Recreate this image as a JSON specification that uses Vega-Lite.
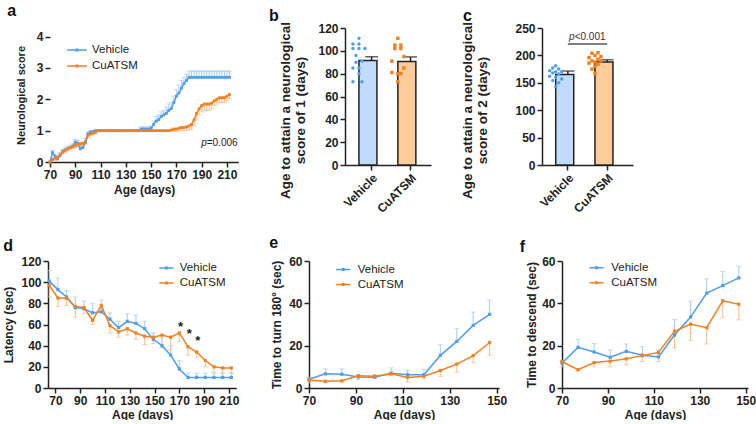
{
"$schema":"https://vega.github.io/schema/vega-lite/v6.json",
"padding":{"left":2,"top":2,"right":0,"bottom":0},
"spacing":19,
"resolve":{"scale":{"color":"independent","fill":"independent","stroke":"independent","shape":"independent","x":"independent","y":"independent"}},
"datasets":{
"a":[
{"g":"Vehicle","x":70,"y":0,"e":0},{"g":"Vehicle","x":72,"y":0.3,"e":0.38},{"g":"Vehicle","x":74,"y":0.18,"e":0.26},{"g":"Vehicle","x":76,"y":0.1,"e":0.16},{"g":"Vehicle","x":78,"y":0.22,"e":0.3},{"g":"Vehicle","x":80,"y":0.33,"e":0.4},{"g":"Vehicle","x":82,"y":0.38,"e":0.45},{"g":"Vehicle","x":84,"y":0.42,"e":0.5},{"g":"Vehicle","x":86,"y":0.46,"e":0.54},{"g":"Vehicle","x":88,"y":0.5,"e":0.58},{"g":"Vehicle","x":90,"y":0.63,"e":0.72},{"g":"Vehicle","x":92,"y":0.6,"e":0.68},{"g":"Vehicle","x":94,"y":0.42,"e":0.5},{"g":"Vehicle","x":96,"y":0.46,"e":0.54},{"g":"Vehicle","x":98,"y":0.65,"e":0.75},{"g":"Vehicle","x":100,"y":0.9,"e":0.96},{"g":"Vehicle","x":102,"y":0.95,"e":1.0},{"g":"Vehicle","x":104,"y":0.97,"e":1.0},{"g":"Vehicle","x":106,"y":1,"e":1},
{"g":"Vehicle","x":108,"y":1,"e":1},{"g":"Vehicle","x":110,"y":1,"e":1},{"g":"Vehicle","x":112,"y":1,"e":1},{"g":"Vehicle","x":114,"y":1,"e":1},{"g":"Vehicle","x":116,"y":1,"e":1},{"g":"Vehicle","x":118,"y":1,"e":1},{"g":"Vehicle","x":120,"y":1,"e":1},{"g":"Vehicle","x":122,"y":1,"e":1},{"g":"Vehicle","x":124,"y":1,"e":1},{"g":"Vehicle","x":126,"y":1,"e":1},{"g":"Vehicle","x":128,"y":1,"e":1},{"g":"Vehicle","x":130,"y":1,"e":1},{"g":"Vehicle","x":132,"y":1,"e":1},{"g":"Vehicle","x":134,"y":1,"e":1},{"g":"Vehicle","x":136,"y":1,"e":1},{"g":"Vehicle","x":138,"y":1,"e":1},{"g":"Vehicle","x":140,"y":1,"e":1},
{"g":"Vehicle","x":142,"y":1.05,"e":1.12},{"g":"Vehicle","x":144,"y":1.05,"e":1.12},{"g":"Vehicle","x":146,"y":1.05,"e":1.12},{"g":"Vehicle","x":148,"y":1.05,"e":1.12},{"g":"Vehicle","x":150,"y":1.08,"e":1.15},{"g":"Vehicle","x":152,"y":1.2,"e":1.3},{"g":"Vehicle","x":154,"y":1.3,"e":1.45},{"g":"Vehicle","x":156,"y":1.35,"e":1.5},{"g":"Vehicle","x":158,"y":1.45,"e":1.6},{"g":"Vehicle","x":160,"y":1.5,"e":1.65},{"g":"Vehicle","x":162,"y":1.55,"e":1.75},{"g":"Vehicle","x":164,"y":1.65,"e":1.85},{"g":"Vehicle","x":166,"y":1.7,"e":1.9},{"g":"Vehicle","x":168,"y":1.9,"e":2.1},{"g":"Vehicle","x":170,"y":2.1,"e":2.3},{"g":"Vehicle","x":172,"y":2.2,"e":2.45},{"g":"Vehicle","x":174,"y":2.35,"e":2.6},{"g":"Vehicle","x":176,"y":2.5,"e":2.7},{"g":"Vehicle","x":178,"y":2.6,"e":2.8},{"g":"Vehicle","x":180,"y":2.7,"e":2.9},
{"g":"Vehicle","x":182,"y":2.7,"e":2.9},{"g":"Vehicle","x":184,"y":2.7,"e":2.9},{"g":"Vehicle","x":186,"y":2.7,"e":2.9},{"g":"Vehicle","x":188,"y":2.7,"e":2.9},{"g":"Vehicle","x":190,"y":2.7,"e":2.9},{"g":"Vehicle","x":192,"y":2.7,"e":2.9},{"g":"Vehicle","x":194,"y":2.7,"e":2.9},{"g":"Vehicle","x":196,"y":2.7,"e":2.9},{"g":"Vehicle","x":198,"y":2.7,"e":2.9},{"g":"Vehicle","x":200,"y":2.7,"e":2.9},{"g":"Vehicle","x":202,"y":2.7,"e":2.9},{"g":"Vehicle","x":204,"y":2.7,"e":2.9},{"g":"Vehicle","x":206,"y":2.7,"e":2.9},{"g":"Vehicle","x":208,"y":2.7,"e":2.9},{"g":"Vehicle","x":210,"y":2.7,"e":2.9},{"g":"Vehicle","x":212,"y":2.7,"e":2.9},
{"g":"CuATSM","x":70,"y":0,"e":0},{"g":"CuATSM","x":72,"y":0.08,"e":0.02},{"g":"CuATSM","x":74,"y":0.12,"e":0.05},{"g":"CuATSM","x":76,"y":0.16,"e":0.1},{"g":"CuATSM","x":78,"y":0.23,"e":0.15},{"g":"CuATSM","x":80,"y":0.32,"e":0.25},{"g":"CuATSM","x":82,"y":0.38,"e":0.3},{"g":"CuATSM","x":84,"y":0.42,"e":0.35},{"g":"CuATSM","x":86,"y":0.46,"e":0.38},{"g":"CuATSM","x":88,"y":0.5,"e":0.43},{"g":"CuATSM","x":90,"y":0.53,"e":0.45},{"g":"CuATSM","x":92,"y":0.57,"e":0.48},{"g":"CuATSM","x":94,"y":0.58,"e":0.5},{"g":"CuATSM","x":96,"y":0.6,"e":0.52},{"g":"CuATSM","x":98,"y":0.62,"e":0.55},{"g":"CuATSM","x":100,"y":0.85,"e":0.78},{"g":"CuATSM","x":102,"y":0.9,"e":0.85},{"g":"CuATSM","x":104,"y":0.92,"e":0.87},{"g":"CuATSM","x":106,"y":0.95,"e":0.9},
{"g":"CuATSM","x":108,"y":1,"e":1},{"g":"CuATSM","x":110,"y":1,"e":1},{"g":"CuATSM","x":112,"y":1,"e":1},{"g":"CuATSM","x":114,"y":1,"e":1},{"g":"CuATSM","x":116,"y":1,"e":1},{"g":"CuATSM","x":118,"y":1,"e":1},{"g":"CuATSM","x":120,"y":1,"e":1},{"g":"CuATSM","x":122,"y":1,"e":1},{"g":"CuATSM","x":124,"y":1,"e":1},{"g":"CuATSM","x":126,"y":1,"e":1},{"g":"CuATSM","x":128,"y":1,"e":1},{"g":"CuATSM","x":130,"y":1,"e":1},{"g":"CuATSM","x":132,"y":1,"e":1},{"g":"CuATSM","x":134,"y":1,"e":1},{"g":"CuATSM","x":136,"y":1,"e":1},{"g":"CuATSM","x":138,"y":1,"e":1},{"g":"CuATSM","x":140,"y":1,"e":1},{"g":"CuATSM","x":142,"y":1,"e":1},{"g":"CuATSM","x":144,"y":1,"e":1},{"g":"CuATSM","x":146,"y":1,"e":1},{"g":"CuATSM","x":148,"y":1,"e":1},{"g":"CuATSM","x":150,"y":1,"e":1},{"g":"CuATSM","x":152,"y":1,"e":1},{"g":"CuATSM","x":154,"y":1,"e":1},{"g":"CuATSM","x":156,"y":1,"e":1},{"g":"CuATSM","x":158,"y":1,"e":1},{"g":"CuATSM","x":160,"y":1,"e":1},{"g":"CuATSM","x":162,"y":1,"e":1},{"g":"CuATSM","x":164,"y":1,"e":1},
{"g":"CuATSM","x":166,"y":1.02,"e":1},{"g":"CuATSM","x":168,"y":1.05,"e":0.98},{"g":"CuATSM","x":170,"y":1.05,"e":0.98},{"g":"CuATSM","x":172,"y":1.08,"e":1},{"g":"CuATSM","x":174,"y":1.1,"e":1},{"g":"CuATSM","x":176,"y":1.1,"e":1},{"g":"CuATSM","x":178,"y":1.12,"e":1},{"g":"CuATSM","x":180,"y":1.15,"e":1.02},{"g":"CuATSM","x":182,"y":1.2,"e":1.05},{"g":"CuATSM","x":184,"y":1.35,"e":1.15},{"g":"CuATSM","x":186,"y":1.55,"e":1.35},{"g":"CuATSM","x":188,"y":1.7,"e":1.5},{"g":"CuATSM","x":190,"y":1.8,"e":1.6},{"g":"CuATSM","x":192,"y":1.85,"e":1.65},{"g":"CuATSM","x":194,"y":1.85,"e":1.65},{"g":"CuATSM","x":196,"y":1.85,"e":1.65},{"g":"CuATSM","x":198,"y":1.88,"e":1.7},{"g":"CuATSM","x":200,"y":1.95,"e":1.8},{"g":"CuATSM","x":202,"y":2,"e":1.85},{"g":"CuATSM","x":204,"y":2.05,"e":1.9},{"g":"CuATSM","x":206,"y":2.05,"e":1.9},{"g":"CuATSM","x":208,"y":2.05,"e":1.9},{"g":"CuATSM","x":210,"y":2.1,"e":1.95},{"g":"CuATSM","x":212,"y":2.15,"e":2.02}
],
"aann":[{"x":194,"y":0.5,"t":"p","k":"italic"},{"x":194,"y":0.5,"t":"=0.006","k":"plain"}],
"bsum":[{"g":"Vehicle","y":91.5,"e":94.8},{"g":"CuATSM","y":90.6,"e":94.7}],
"bdots":[
{"g":"Vehicle","y":111,"k":0},{"g":"Vehicle","y":106,"k":-2},{"g":"Vehicle","y":106,"k":0},{"g":"Vehicle","y":102,"k":-2},{"g":"Vehicle","y":102,"k":0},{"g":"Vehicle","y":102,"k":2},{"g":"Vehicle","y":96,"k":-1},{"g":"Vehicle","y":91,"k":1},{"g":"Vehicle","y":90,"k":-1},{"g":"Vehicle","y":85,"k":-2},{"g":"Vehicle","y":85,"k":0},{"g":"Vehicle","y":80,"k":0},{"g":"Vehicle","y":73,"k":-2},{"g":"Vehicle","y":73,"k":1},
{"g":"CuATSM","y":111,"k":0},{"g":"CuATSM","y":105,"k":-1},{"g":"CuATSM","y":105,"k":1},{"g":"CuATSM","y":102,"k":-1},{"g":"CuATSM","y":102,"k":1},{"g":"CuATSM","y":95,"k":2},{"g":"CuATSM","y":91,"k":-2},{"g":"CuATSM","y":85,"k":2},{"g":"CuATSM","y":81,"k":-2},{"g":"CuATSM","y":80,"k":0},{"g":"CuATSM","y":80,"k":1},{"g":"CuATSM","y":73,"k":0}
],
"csum":[{"g":"Vehicle","y":165,"e":171.5},{"g":"CuATSM","y":188,"e":192}],
"cdots":[
{"g":"Vehicle","y":181,"k":0},{"g":"Vehicle","y":177,"k":-1},{"g":"Vehicle","y":175,"k":1},{"g":"Vehicle","y":172,"k":-2},{"g":"Vehicle","y":170,"k":0},{"g":"Vehicle","y":170,"k":2},{"g":"Vehicle","y":168,"k":-1},{"g":"Vehicle","y":166,"k":1},{"g":"Vehicle","y":162,"k":-2},{"g":"Vehicle","y":160,"k":0},{"g":"Vehicle","y":157,"k":2},{"g":"Vehicle","y":154,"k":-1},{"g":"Vehicle","y":150,"k":1},{"g":"Vehicle","y":143,"k":0},
{"g":"CuATSM","y":205,"k":1},{"g":"CuATSM","y":204,"k":-1},{"g":"CuATSM","y":200,"k":0},{"g":"CuATSM","y":198,"k":2},{"g":"CuATSM","y":196,"k":-2},{"g":"CuATSM","y":193,"k":1},{"g":"CuATSM","y":190,"k":-1},{"g":"CuATSM","y":190,"k":2},{"g":"CuATSM","y":188,"k":0},{"g":"CuATSM","y":186,"k":-2},{"g":"CuATSM","y":184,"k":1},{"g":"CuATSM","y":180,"k":0},{"g":"CuATSM","y":175,"k":-1},{"g":"CuATSM","y":167,"k":0}
],
"d":[
{"g":"Vehicle","x":65,"y":101,"e":111},{"g":"Vehicle","x":72,"y":93,"e":104},{"g":"Vehicle","x":79,"y":86,"e":92},{"g":"Vehicle","x":86,"y":76,"e":86},{"g":"Vehicle","x":93,"y":75,"e":82},{"g":"Vehicle","x":100,"y":71,"e":80},{"g":"Vehicle","x":107,"y":72,"e":83},{"g":"Vehicle","x":114,"y":65,"e":71},{"g":"Vehicle","x":121,"y":57,"e":63},{"g":"Vehicle","x":128,"y":63,"e":70},{"g":"Vehicle","x":135,"y":61,"e":69},{"g":"Vehicle","x":142,"y":56,"e":63},{"g":"Vehicle","x":149,"y":46,"e":52},{"g":"Vehicle","x":156,"y":40,"e":48},{"g":"Vehicle","x":163,"y":31,"e":40},{"g":"Vehicle","x":170,"y":18,"e":26},{"g":"Vehicle","x":177,"y":10,"e":14},{"g":"Vehicle","x":184,"y":10,"e":14},{"g":"Vehicle","x":191,"y":10,"e":14},{"g":"Vehicle","x":198,"y":10,"e":14},{"g":"Vehicle","x":205,"y":10,"e":14},{"g":"Vehicle","x":212,"y":10,"e":14},
{"g":"CuATSM","x":65,"y":97,"e":86},{"g":"CuATSM","x":72,"y":85,"e":77},{"g":"CuATSM","x":79,"y":85,"e":78},{"g":"CuATSM","x":86,"y":77,"e":67},{"g":"CuATSM","x":93,"y":76,"e":70},{"g":"CuATSM","x":100,"y":64,"e":60},{"g":"CuATSM","x":107,"y":78,"e":75},{"g":"CuATSM","x":114,"y":59,"e":52},{"g":"CuATSM","x":121,"y":53,"e":48},{"g":"CuATSM","x":128,"y":56,"e":50},{"g":"CuATSM","x":135,"y":52,"e":46},{"g":"CuATSM","x":142,"y":49,"e":41},{"g":"CuATSM","x":149,"y":48,"e":42},{"g":"CuATSM","x":156,"y":50,"e":38},{"g":"CuATSM","x":163,"y":48,"e":36},{"g":"CuATSM","x":170,"y":52,"e":44},{"g":"CuATSM","x":177,"y":39,"e":31},{"g":"CuATSM","x":184,"y":34,"e":29},{"g":"CuATSM","x":191,"y":26,"e":20},{"g":"CuATSM","x":198,"y":20,"e":15},{"g":"CuATSM","x":205,"y":19,"e":14},{"g":"CuATSM","x":212,"y":19,"e":14}
],
"dstars":[{"x":171,"y":58},{"x":178,"y":51},{"x":185,"y":44}],
"e":[
{"g":"Vehicle","x":70,"y":4.1,"e":5},{"g":"Vehicle","x":77,"y":6.7,"e":9},{"g":"Vehicle","x":84,"y":6.5,"e":9},{"g":"Vehicle","x":91,"y":5.2,"e":6.3},{"g":"Vehicle","x":98,"y":5.1,"e":6.2},{"g":"Vehicle","x":105,"y":7,"e":9.5},{"g":"Vehicle","x":112,"y":6.3,"e":8.5},{"g":"Vehicle","x":119,"y":6.3,"e":8.8},{"g":"Vehicle","x":126,"y":15.4,"e":20.4},{"g":"Vehicle","x":133,"y":22,"e":28},{"g":"Vehicle","x":140,"y":29.6,"e":35.9},{"g":"Vehicle","x":147,"y":34.8,"e":41.5},
{"g":"CuATSM","x":70,"y":3.8,"e":2.5},{"g":"CuATSM","x":77,"y":3.2,"e":2.6},{"g":"CuATSM","x":84,"y":3.4,"e":2.8},{"g":"CuATSM","x":91,"y":5.8,"e":4},{"g":"CuATSM","x":98,"y":5.6,"e":4.5},{"g":"CuATSM","x":105,"y":6.7,"e":5.8},{"g":"CuATSM","x":112,"y":5,"e":2.8},{"g":"CuATSM","x":119,"y":5.6,"e":4.3},{"g":"CuATSM","x":126,"y":8.3,"e":5.5},{"g":"CuATSM","x":133,"y":11.3,"e":7.5},{"g":"CuATSM","x":140,"y":15.3,"e":12},{"g":"CuATSM","x":147,"y":21.5,"e":15.5}
],
"f":[
{"g":"Vehicle","x":70,"y":11.8,"e":13},{"g":"Vehicle","x":77,"y":19.2,"e":23},{"g":"Vehicle","x":84,"y":17,"e":21},{"g":"Vehicle","x":91,"y":14.5,"e":18},{"g":"Vehicle","x":98,"y":17.3,"e":20.8},{"g":"Vehicle","x":105,"y":15.5,"e":19.5},{"g":"Vehicle","x":112,"y":14.7,"e":18},{"g":"Vehicle","x":119,"y":25,"e":32.3},{"g":"Vehicle","x":126,"y":33.5,"e":41},{"g":"Vehicle","x":133,"y":44.8,"e":51.6},{"g":"Vehicle","x":140,"y":48.4,"e":55},{"g":"Vehicle","x":147,"y":52,"e":57.5},
{"g":"CuATSM","x":70,"y":12.5,"e":10},{"g":"CuATSM","x":77,"y":8.7,"e":8},{"g":"CuATSM","x":84,"y":12,"e":10},{"g":"CuATSM","x":91,"y":12.7,"e":10},{"g":"CuATSM","x":98,"y":13.8,"e":11},{"g":"CuATSM","x":105,"y":15.3,"e":12.5},{"g":"CuATSM","x":112,"y":16.8,"e":12.5},{"g":"CuATSM","x":119,"y":26.8,"e":19},{"g":"CuATSM","x":126,"y":30.2,"e":22.5},{"g":"CuATSM","x":133,"y":28.5,"e":20.8},{"g":"CuATSM","x":140,"y":41.2,"e":33.2},{"g":"CuATSM","x":147,"y":39.6,"e":32.2}
]
},
"vconcat":[
{"hconcat":[
{"width":2,"height":134,"data":{"values":[]},"mark":"point"},
{"width":188.3,"height":134,
 "title":{"text":"a","dx":-42.7,"offset":-3.8,"baseline":"alphabetic"},
 "data":{"name":"a"},
 "encoding":{"x":{"field":"x","type":"quantitative","title":"Age (days)","scale":{"domain":[70,219],"nice":false,"zero":false},"axis":{"values":[70,90,110,130,150,170,190,210],"titlePadding":4}}},
 "layer":[
  {"transform":[{"filter":"datum.e != datum.y"}],"mark":{"type":"rule","strokeWidth":1},
   "encoding":{"y":{"field":"y","type":"quantitative","title":"Neurological score","scale":{"domain":[0,4.274],"nice":false},"axis":{"values":[0,1,2,3,4],"titlePadding":10,"domain":false,"titleFontSize":11}},"y2":{"field":"e"},
    "stroke":{"field":"g","type":"nominal","scale":{"domain":["CuATSM","Vehicle"],"range":["#f9bd89","#a4cdf6"]},"legend":null}}},
  {"transform":[{"filter":"datum.e != datum.y"}],"mark":{"type":"tick","orient":"horizontal","size":5,"thickness":1},
   "encoding":{"y":{"field":"e","type":"quantitative","title":"Neurological score","axis":{"values":[0,1,2,3,4],"titlePadding":10,"domain":false,"titleFontSize":11}},
    "fill":{"field":"g","type":"nominal","scale":{"domain":["CuATSM","Vehicle"],"range":["#f9bd89","#a4cdf6"]},"legend":null}}},
  {"mark":{"type":"line","strokeWidth":1.5,"point":{"shape":"square","size":8,"filled":true}},
   "encoding":{"y":{"field":"y","type":"quantitative","title":"Neurological score","axis":{"values":[0,1,2,3,4],"titlePadding":10,"domain":false,"titleFontSize":11}},
    "color":{"field":"g","type":"nominal","scale":{"domain":["Vehicle","CuATSM"],"range":["#4f9def","#f47f20"]},
     "legend":{"orient":"none","legendX":19,"legendY":14,"title":null,"symbolType":"M-1.4,0L1.4,0M-0.1,-0.1L0.1,-0.1L0.1,0.1L-0.1,0.1Z","symbolSize":200,"symbolStrokeWidth":1.5,"labelFontSize":11.5,"labelColor":"#222","labelOffset":7,"rowPadding":2,"padding":0}}}},
  {"data":{"values":[{"t":"axis"}]},"mark":{"type":"rule","stroke":"#222","strokeWidth":1.5},
   "encoding":{"x":{"datum":70},"y":{"datum":0,"title":"Neurological score","axis":{"values":[0,1,2,3,4],"titlePadding":10,"domain":false,"titleFontSize":11}},"y2":{"datum":4}}},
  {"data":{"name":"aann"},"transform":[{"filter":"datum.k == 'italic'"}],"mark":{"type":"text","align":"right","baseline":"alphabetic","fontSize":10,"fontStyle":"italic","color":"#222"},
   "encoding":{"x":{"field":"x","type":"quantitative"},"y":{"field":"y","type":"quantitative","title":"Neurological score","axis":{"values":[0,1,2,3,4],"titlePadding":10,"domain":false,"titleFontSize":11}},"text":{"field":"t"}}},
  {"data":{"name":"aann"},"transform":[{"filter":"datum.k == 'plain'"}],"mark":{"type":"text","align":"left","baseline":"alphabetic","fontSize":10,"color":"#222"},
   "encoding":{"x":{"field":"x","type":"quantitative"},"y":{"field":"y","type":"quantitative","title":"Neurological score","axis":{"values":[0,1,2,3,4],"titlePadding":10,"domain":false,"titleFontSize":11}},"text":{"field":"t"}}}
 ]},
{"width":106,"height":134,"data":{"values":[]},"mark":"point"},
{"width":86,"height":137,
 "title":{"text":"b","dx":-76,"offset":-15.5,"baseline":"alphabetic"},
 "encoding":{"x":{"field":"g","type":"nominal","title":null,"sort":["Vehicle","CuATSM"],"scale":{"domain":["Vehicle","CuATSM"],"paddingInner":0.35,"paddingOuter":0.28,"align":0.64},"axis":{"labelAngle":-45}}},
 "layer":[
  {"data":{"name":"bsum"},"mark":{"type":"bar","stroke":"#222","strokeWidth":1.5},
   "encoding":{"y":{"field":"y","type":"quantitative","title":["Age to attain a neurological","score of 1 (days)"],"scale":{"domain":[0,120],"nice":false},"axis":{"values":[0,20,40,60,80,100,120],"titlePadding":10,"titleFontSize":13.5,"titleY":82}},
    "fill":{"field":"g","type":"nominal","scale":{"domain":["Vehicle","CuATSM"],"range":["#bfdbfd","#ffcb98"]},"legend":null}}},
  {"data":{"name":"bsum"},"mark":{"type":"rule","stroke":"#222","strokeWidth":1.5},
   "encoding":{"y":{"field":"y","type":"quantitative","title":["Age to attain a neurological","score of 1 (days)"],"axis":{"values":[0,20,40,60,80,100,120],"titlePadding":10,"titleFontSize":13.5,"titleY":82}},"y2":{"field":"e"}}},
  {"data":{"name":"bsum"},"mark":{"type":"tick","orient":"horizontal","size":13,"thickness":1.5,"color":"#222"},
   "encoding":{"y":{"field":"e","type":"quantitative","title":["Age to attain a neurological","score of 1 (days)"],"axis":{"values":[0,20,40,60,80,100,120],"titlePadding":10,"titleFontSize":13.5,"titleY":82}}}},
  {"data":{"name":"bdots"},"mark":{"type":"point","filled":true,"size":12,"opacity":1},
   "encoding":{"y":{"field":"y","type":"quantitative","title":["Age to attain a neurological","score of 1 (days)"],"axis":{"values":[0,20,40,60,80,100,120],"titlePadding":10,"titleFontSize":13.5,"titleY":82}},
    "xOffset":{"field":"k","type":"quantitative","scale":{"domain":[-3,3],"range":[-9,9]}},
    "shape":{"field":"g","type":"nominal","scale":{"domain":["Vehicle","CuATSM"],"range":["circle","square"]},"legend":null},
    "color":{"field":"g","type":"nominal","scale":{"domain":["Vehicle","CuATSM"],"range":["#4f9def","#f47f20"]},"legend":null}}}
 ]},
{"width":111,"height":134,"data":{"values":[]},"mark":"point"},
{"width":91,"height":137,
 "title":{"text":"c","dx":-79,"offset":-15.5,"baseline":"alphabetic"},
 "encoding":{"x":{"field":"g","type":"nominal","title":null,"sort":["Vehicle","CuATSM"],"scale":{"domain":["Vehicle","CuATSM"],"paddingInner":0.38,"paddingOuter":0.35,"align":0.5},"axis":{"labelAngle":-45}}},
 "layer":[
  {"data":{"name":"csum"},"mark":{"type":"bar","stroke":"#222","strokeWidth":1.5},
   "encoding":{"y":{"field":"y","type":"quantitative","title":["Age to attain a neurological","score of 2 (days)"],"scale":{"domain":[0,250],"nice":false},"axis":{"values":[0,50,100,150,200,250],"titlePadding":25,"titleFontSize":13.5,"titleY":82}},
    "fill":{"field":"g","type":"nominal","scale":{"domain":["Vehicle","CuATSM"],"range":["#bfdbfd","#ffcb98"]},"legend":null}}},
  {"data":{"name":"csum"},"mark":{"type":"rule","stroke":"#222","strokeWidth":1.5},
   "encoding":{"y":{"field":"y","type":"quantitative","title":["Age to attain a neurological","score of 2 (days)"],"axis":{"values":[0,50,100,150,200,250],"titlePadding":25,"titleFontSize":13.5,"titleY":82}},"y2":{"field":"e"}}},
  {"data":{"name":"csum"},"mark":{"type":"tick","orient":"horizontal","size":13,"thickness":1.5,"color":"#222"},
   "encoding":{"y":{"field":"e","type":"quantitative","title":["Age to attain a neurological","score of 2 (days)"],"axis":{"values":[0,50,100,150,200,250],"titlePadding":25,"titleFontSize":13.5,"titleY":82}}}},
  {"data":{"name":"cdots"},"mark":{"type":"point","filled":true,"size":12,"opacity":1},
   "encoding":{"y":{"field":"y","type":"quantitative","title":["Age to attain a neurological","score of 2 (days)"],"axis":{"values":[0,50,100,150,200,250],"titlePadding":25,"titleFontSize":13.5,"titleY":82}},
    "xOffset":{"field":"k","type":"quantitative","scale":{"domain":[-3,3],"range":[-9,9]}},
    "shape":{"field":"g","type":"nominal","scale":{"domain":["Vehicle","CuATSM"],"range":["circle","square"]},"legend":null},
    "color":{"field":"g","type":"nominal","scale":{"domain":["Vehicle","CuATSM"],"range":["#4f9def","#f47f20"]},"legend":null}}},
  {"data":{"values":[{"t":"bracket"}]},"mark":{"type":"rule","stroke":"#555","strokeWidth":1.5},
   "encoding":{"x":{"datum":"Vehicle"},"x2":{"datum":"CuATSM"},"y":{"datum":221,"title":["Age to attain a neurological","score of 2 (days)"],"axis":{"values":[0,50,100,150,200,250],"titlePadding":25,"titleFontSize":13.5,"titleY":82}}}},
  {"data":{"values":[{"t":"p"}]},"mark":{"type":"text","align":"left","baseline":"alphabetic","fontSize":10,"fontStyle":"italic","color":"#333","dx":1.2},
   "encoding":{"x":{"datum":"Vehicle"},"y":{"datum":229,"title":["Age to attain a neurological","score of 2 (days)"],"axis":{"values":[0,50,100,150,200,250],"titlePadding":25,"titleFontSize":13.5,"titleY":82}},"text":{"field":"t"}}},
  {"data":{"values":[{"t":"<0.001"}]},"mark":{"type":"text","align":"left","baseline":"alphabetic","fontSize":10,"color":"#333","dx":6.8},
   "encoding":{"x":{"datum":"Vehicle"},"y":{"datum":229,"title":["Age to attain a neurological","score of 2 (days)"],"axis":{"values":[0,50,100,150,200,250],"titlePadding":25,"titleFontSize":13.5,"titleY":82}},"text":{"field":"t"}}}
 ]}
],"bounds":"flush","spacing":0,"resolve":{"scale":{"color":"independent","fill":"independent","stroke":"independent","shape":"independent","x":"independent","y":"independent"}}},
{"hconcat":[
{"width":188.3,"height":127,
 "title":{"text":"d","dx":-44.7,"offset":-12,"baseline":"alphabetic"},
 "data":{"name":"d"},
 "encoding":{"x":{"field":"x","type":"quantitative","title":"Age (days)","scale":{"domain":[64,216],"nice":false,"zero":false},"axis":{"values":[70,90,110,130,150,170,190,210],"titlePadding":3}}},
 "layer":[
  {"mark":{"type":"rule","strokeWidth":1},
   "encoding":{"y":{"field":"y","type":"quantitative","title":"Latency (sec)","scale":{"domain":[0,120],"nice":false},"axis":{"values":[0,20,40,60,80,100,120],"titlePadding":5}},"y2":{"field":"e"},
    "stroke":{"field":"g","type":"nominal","scale":{"domain":["CuATSM","Vehicle"],"range":["#f9bd89","#a4cdf6"]},"legend":null}}},
  {"mark":{"type":"tick","orient":"horizontal","size":5,"thickness":1},
   "encoding":{"y":{"field":"e","type":"quantitative","title":"Latency (sec)","axis":{"values":[0,20,40,60,80,100,120],"titlePadding":5}},
    "fill":{"field":"g","type":"nominal","scale":{"domain":["CuATSM","Vehicle"],"range":["#f9bd89","#a4cdf6"]},"legend":null}}},
  {"mark":{"type":"line","strokeWidth":1.5,"point":{"shape":"square","size":10,"filled":true}},
   "encoding":{"y":{"field":"y","type":"quantitative","title":"Latency (sec)","axis":{"values":[0,20,40,60,80,100,120],"titlePadding":5}},
    "color":{"field":"g","type":"nominal","scale":{"domain":["Vehicle","CuATSM"],"range":["#4f9def","#f47f20"]},
     "legend":{"orient":"none","legendX":110.4,"legendY":-1,"title":null,"symbolType":"M-1,0L1,0M-0.1,-0.1L0.1,-0.1L0.1,0.1L-0.1,0.1Z","symbolSize":200,"symbolStrokeWidth":1.5,"labelFontSize":11.5,"labelColor":"#222","labelOffset":5.4,"rowPadding":1,"padding":0}}}},
  {"data":{"name":"dstars"},"mark":{"type":"text","text":"*","fontSize":13,"fontWeight":"bold","color":"#222","baseline":"middle"},
   "encoding":{"x":{"field":"x","type":"quantitative"},"y":{"field":"y","type":"quantitative","title":"Latency (sec)","axis":{"values":[0,20,40,60,80,100,120],"titlePadding":5}}}}
 ]},
{"width":71.7,"height":127,"data":{"values":[]},"mark":"point"},
{"width":190,"height":127,
 "title":{"text":"e","dx":-39.7,"offset":-8.5,"baseline":"alphabetic"},
 "data":{"name":"e"},
 "encoding":{"x":{"field":"x","type":"quantitative","title":"Age (days)","scale":{"domain":[70,151],"nice":false,"zero":false},"axis":{"values":[70,90,110,130,150],"titlePadding":3}}},
 "layer":[
  {"mark":{"type":"rule","strokeWidth":1},
   "encoding":{"y":{"field":"y","type":"quantitative","title":"Time to turn 180° (sec)","scale":{"domain":[0,60],"nice":false},"axis":{"values":[0,20,40,60],"titlePadding":5}},"y2":{"field":"e"},
    "stroke":{"field":"g","type":"nominal","scale":{"domain":["CuATSM","Vehicle"],"range":["#f9bd89","#a4cdf6"]},"legend":null}}},
  {"mark":{"type":"tick","orient":"horizontal","size":5,"thickness":1},
   "encoding":{"y":{"field":"e","type":"quantitative","title":"Time to turn 180° (sec)","axis":{"values":[0,20,40,60],"titlePadding":5}},
    "fill":{"field":"g","type":"nominal","scale":{"domain":["CuATSM","Vehicle"],"range":["#f9bd89","#a4cdf6"]},"legend":null}}},
  {"mark":{"type":"line","strokeWidth":1.5,"point":{"shape":"square","size":10,"filled":true}},
   "encoding":{"y":{"field":"y","type":"quantitative","title":"Time to turn 180° (sec)","axis":{"values":[0,20,40,60],"titlePadding":5}},
    "color":{"field":"g","type":"nominal","scale":{"domain":["Vehicle","CuATSM"],"range":["#4f9def","#f47f20"]},
     "legend":{"orient":"none","legendX":26.3,"legendY":0.5,"title":null,"symbolType":"M-1,0L1,0M-0.1,-0.1L0.1,-0.1L0.1,0.1L-0.1,0.1Z","symbolSize":200,"symbolStrokeWidth":1.5,"labelFontSize":11.5,"labelColor":"#222","labelOffset":6.4,"rowPadding":1,"padding":0}}}}
 ]},
{"width":62.6,"height":127,"data":{"values":[]},"mark":"point"},
{"width":186,"height":127,
 "title":{"text":"f","dx":-42.3,"offset":-12.8,"baseline":"alphabetic"},
 "data":{"name":"f"},
 "encoding":{"x":{"field":"x","type":"quantitative","title":"Age (days)","scale":{"domain":[70,151],"nice":false,"zero":false},"axis":{"values":[70,90,110,130,150],"titlePadding":3}}},
 "layer":[
  {"mark":{"type":"rule","strokeWidth":1},
   "encoding":{"y":{"field":"y","type":"quantitative","title":"Time to descend (sec)","scale":{"domain":[0,60],"nice":false},"axis":{"values":[0,20,40,60],"titlePadding":3}},"y2":{"field":"e"},
    "stroke":{"field":"g","type":"nominal","scale":{"domain":["CuATSM","Vehicle"],"range":["#f9bd89","#a4cdf6"]},"legend":null}}},
  {"mark":{"type":"tick","orient":"horizontal","size":5,"thickness":1},
   "encoding":{"y":{"field":"e","type":"quantitative","title":"Time to descend (sec)","axis":{"values":[0,20,40,60],"titlePadding":3}},
    "fill":{"field":"g","type":"nominal","scale":{"domain":["CuATSM","Vehicle"],"range":["#f9bd89","#a4cdf6"]},"legend":null}}},
  {"mark":{"type":"line","strokeWidth":1.5,"point":{"shape":"square","size":10,"filled":true}},
   "encoding":{"y":{"field":"y","type":"quantitative","title":"Time to descend (sec)","axis":{"values":[0,20,40,60],"titlePadding":3}},
    "color":{"field":"g","type":"nominal","scale":{"domain":["Vehicle","CuATSM"],"range":["#4f9def","#f47f20"]},
     "legend":{"orient":"none","legendX":26.6,"legendY":-1.2,"title":null,"symbolType":"M-1,0L1,0M-0.1,-0.1L0.1,-0.1L0.1,0.1L-0.1,0.1Z","symbolSize":200,"symbolStrokeWidth":1.5,"labelFontSize":11.5,"labelColor":"#222","labelOffset":6.6,"rowPadding":1,"padding":0}}}}
 ]}
],"bounds":"flush","spacing":0,"resolve":{"scale":{"color":"independent","fill":"independent","stroke":"independent","shape":"independent","x":"independent","y":"independent"}}}
],
"config":{
 "font":"Liberation Sans",
 "view":{"stroke":null},
 "axis":{"domainColor":"#222","domainWidth":1.5,"tickColor":"#222","tickWidth":1.5,"tickSize":5,"labelFontSize":12,"labelFontWeight":"bold","labelColor":"#222","labelPadding":2,"titleFontSize":12,"titleFontWeight":"bold","titleColor":"#222","grid":false,"labelFlush":false,"labelOverlap":false,"labelBound":false},
 "title":{"fontSize":16,"fontWeight":"bold","anchor":"start","frame":"group","color":"#111"}
}
}
